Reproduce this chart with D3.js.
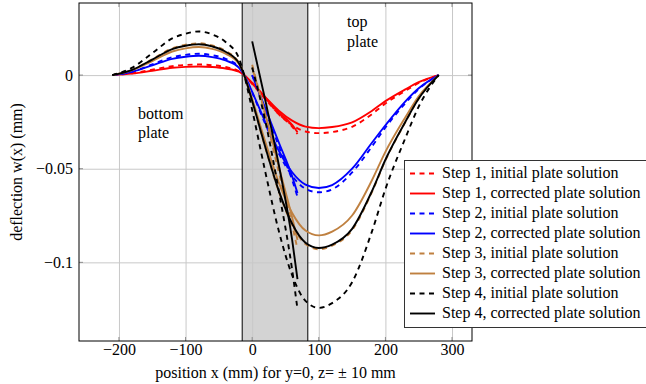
<!DOCTYPE html>
<html>
<head>
<meta charset="utf-8">
<script src="https://cdn.jsdelivr.net/npm/d3@7"></script>
<style>
    body { margin: 0; background: #fff; }
</style>
</head>
<body>
<div id="chart"></div>
<script>
// positions along the plate (mm), main curve
const xPos = [-210, -180, -150, -120, -100, -80, -60, -40, -20, -12, 0, 20, 40, 60, 80, 100, 120, 150, 180, 200, 230, 250, 280];
// positions inside the overlap (grey) region
const xOverlap = [0, 20, 40, 60, 68];

// deflection w(x) in mm
const step1Initial   = [0, 0.0010, 0.0029, 0.0048, 0.0054, 0.0057, 0.0053, 0.0043, 0.0022, 0, -0.0047, -0.0130, -0.0208, -0.0267, -0.0301, -0.0310, -0.0304, -0.0276, -0.0208, -0.0152, -0.0084, -0.0042, 0];
const step1Corrected = [0, 0.0008, 0.0023, 0.0039, 0.0044, 0.0046, 0.0043, 0.0035, 0.0018, 0, -0.0042, -0.0119, -0.0190, -0.0243, -0.0275, -0.0283, -0.0277, -0.0252, -0.0190, -0.0139, -0.0076, -0.0038, 0];
const step2Initial   = [0, 0.0019, 0.0057, 0.0096, 0.0108, 0.0114, 0.0106, 0.0087, 0.0044, 0, -0.0094, -0.0263, -0.0419, -0.0538, -0.0607, -0.0626, -0.0610, -0.0520, -0.0380, -0.0280, -0.0150, -0.0075, 0];
const step2Corrected = [0, 0.0018, 0.0052, 0.0087, 0.0098, 0.0103, 0.0096, 0.0078, 0.0040, 0, -0.0090, -0.0253, -0.0404, -0.0519, -0.0585, -0.0603, -0.0587, -0.0500, -0.0360, -0.0268, -0.0140, -0.0070, 0];
const step3Initial   = [0, 0.0029, 0.0085, 0.0143, 0.0162, 0.0170, 0.0158, 0.0129, 0.0066, 0, -0.0140, -0.0391, -0.0623, -0.0800, -0.0902, -0.0930, -0.0911, -0.0828, -0.0623, -0.0456, -0.0251, -0.0126, 0];
const step3Corrected = [0, 0.0026, 0.0075, 0.0126, 0.0143, 0.0150, 0.0140, 0.0114, 0.0059, 0, -0.0128, -0.0360, -0.0574, -0.0736, -0.0830, -0.0856, -0.0836, -0.0750, -0.0560, -0.0410, -0.0225, -0.0113, 0];
const step4Initial   = [0, 0.0040, 0.0117, 0.0196, 0.0221, 0.0233, 0.0217, 0.0177, 0.0091, 0, -0.0186, -0.0522, -0.0833, -0.1069, -0.1206, -0.1243, -0.1218, -0.1106, -0.0833, -0.0609, -0.0336, -0.0168, 0];
const step4Corrected = [0, 0.0028, 0.0083, 0.0139, 0.0157, 0.0165, 0.0153, 0.0125, 0.0064, 0, -0.0138, -0.0388, -0.0618, -0.0794, -0.0895, -0.0923, -0.0905, -0.0821, -0.0618, -0.0452, -0.0249, -0.0125, 0];

// second branch of each solution inside the overlap
const step1InitialOverlap   = [-0.0045, -0.0125, -0.0210, -0.0275, -0.0315];
const step1CorrectedOverlap = [-0.0040, -0.0120, -0.0200, -0.0265, -0.0305];
const step2InitialOverlap   = [0.0000, -0.0190, -0.0380, -0.0560, -0.0650];
const step2CorrectedOverlap = [0.0000, -0.0180, -0.0360, -0.0540, -0.0630];
const step3InitialOverlap   = [0.0055, -0.0220, -0.0520, -0.0800, -0.0930];
const step3CorrectedOverlap = [0.0040, -0.0210, -0.0490, -0.0760, -0.0880];
const step4InitialOverlap   = [0.0040, -0.0250, -0.0620, -0.1040, -0.1250];
const step4CorrectedOverlap = [0.0180, -0.0140, -0.0480, -0.0880, -0.1090];

const seriesLabels = [
    "Step 1, initial plate solution", "Step 1, corrected plate solution",
    "Step 2, initial plate solution", "Step 2, corrected plate solution",
    "Step 3, initial plate solution", "Step 3, corrected plate solution",
    "Step 4, initial plate solution", "Step 4, corrected plate solution"
];
const seriesMain = [step1Initial, step1Corrected, step2Initial, step2Corrected, step3Initial, step3Corrected, step4Initial, step4Corrected];
const seriesOverlap = [step1InitialOverlap, step1CorrectedOverlap, step2InitialOverlap, step2CorrectedOverlap,
    step3InitialOverlap, step3CorrectedOverlap, step4InitialOverlap, step4CorrectedOverlap];

const xTicks = [-200, -100, 0, 100, 200, 300];
const yTicks = [-0.1, -0.05, 0];
const overlapRegion = [-15, 83.5];

const serifFont = "'Liberation Serif', 'Times New Roman', Times, 'DejaVu Serif', serif";

class DeflectionChart {

    constructor() {
        this.width = 646;
        this.height = 384;
        this.plot = {left: 79, top: 3, right: 472, bottom: 341};

        this.svg = d3.select("#chart").append("svg")
            .attr("width", this.width)
            .attr("height", this.height)
            .style("font-family", serifFont)
            .style("font-size", "16px");

        this.xScale = d3.scaleLinear().domain([-260, 330]).range([this.plot.left, this.plot.right]);
        this.yScale = d3.scaleLinear().domain([-0.142, 0.0385]).range([this.plot.bottom, this.plot.top]);

        this.colors = ["#ff0000", "#ff0000", "#0000ff", "#0000ff", "#bf8040", "#bf8040", "#000000", "#000000"];
        this.dashed = [true, false, true, false, true, false, true, false];
        this.lineWidth = 1.9;
    }

    // every text gets the serif font explicitly, axes set their own otherwise
    addText(parent, str, xv, yv) {
        return parent.append("text")
            .attr("x", xv).attr("y", yv)
            .style("font-family", serifFont)
            .style("font-size", "16px")
            .attr("fill", "#000")
            .text(str);
    }

    update() {
        let x = this.xScale, y = this.yScale, p = this.plot;
        let h = p.bottom - p.top, w = p.right - p.left;

        // grey overlap region of the two plates
        this.svg.append("rect")
            .attr("x", x(overlapRegion[0]))
            .attr("y", p.top)
            .attr("width", x(overlapRegion[1]) - x(overlapRegion[0]))
            .attr("height", h)
            .attr("fill", "#d3d3d3");

        // grid
        this.svg.append("g")
            .attr("transform", `translate(0,${p.bottom})`)
            .call(d3.axisBottom(x).tickValues(xTicks).tickSize(-h).tickFormat(""))
            .call(g => g.select(".domain").remove())
            .selectAll("line").attr("stroke", "#c8c8c8");
        this.svg.append("g")
            .attr("transform", `translate(${p.left},0)`)
            .call(d3.axisLeft(y).tickValues(yTicks).tickSize(-w).tickFormat(""))
            .call(g => g.select(".domain").remove())
            .selectAll("line").attr("stroke", "#c8c8c8");

        // edges of the overlap region
        overlapRegion.forEach(v => {
            this.svg.append("line")
                .attr("x1", x(v)).attr("x2", x(v))
                .attr("y1", p.top).attr("y2", p.bottom)
                .attr("stroke", "#000").attr("stroke-width", 1);
        });

        // small inner ticks on all sides
        let tickLen = 4;
        let ticks = this.svg.append("g").attr("stroke", "#8c8c8c");
        xTicks.forEach(v => {
            ticks.append("line").attr("x1", x(v)).attr("x2", x(v)).attr("y1", p.bottom).attr("y2", p.bottom - tickLen);
            ticks.append("line").attr("x1", x(v)).attr("x2", x(v)).attr("y1", p.top).attr("y2", p.top + tickLen);
        });
        yTicks.forEach(v => {
            ticks.append("line").attr("y1", y(v)).attr("y2", y(v)).attr("x1", p.left).attr("x2", p.left + tickLen);
            ticks.append("line").attr("y1", y(v)).attr("y2", y(v)).attr("x1", p.right).attr("x2", p.right - tickLen);
        });

        // curves
        let line = d3.line()
            .x(d => x(d[0]))
            .y(d => y(d[1]))
            .curve(d3.curveMonotoneX);

        let curves = this.svg.append("g").attr("fill", "none");
        seriesMain.forEach((vals, i) => {
            let main = xPos.map((xv, j) => [xv, vals[j]]);
            let over = xOverlap.map((xv, j) => [xv, seriesOverlap[i][j]]);
            [over, main].forEach(pts => {
                curves.append("path")
                    .attr("d", line(pts))
                    .attr("stroke", this.colors[i])
                    .attr("stroke-width", this.lineWidth)
                    .attr("stroke-dasharray", this.dashed[i] ? "5,4.5" : null);
            });
        });

        // frame
        this.svg.append("rect")
            .attr("x", p.left).attr("y", p.top)
            .attr("width", w).attr("height", h)
            .attr("fill", "none").attr("stroke", "#000").attr("stroke-width", 1);

        // tick labels
        this.svg.append("g")
            .attr("transform", `translate(0,${p.bottom})`)
            .call(d3.axisBottom(x).tickValues(xTicks).tickSize(0).tickPadding(3).tickFormat(d3.format("d")))
            .call(g => g.select(".domain").remove())
            .attr("font-family", null).attr("font-size", null)
            .selectAll("text").style("font-family", serifFont).style("font-size", "16px");
        this.svg.append("g")
            .attr("transform", `translate(${p.left},0)`)
            .call(d3.axisLeft(y).tickValues(yTicks).tickSize(0).tickPadding(6).tickFormat(d3.format("~g")))
            .call(g => g.select(".domain").remove())
            .attr("font-family", null).attr("font-size", null)
            .selectAll("text").style("font-family", serifFont).style("font-size", "16px");

        // axis titles
        this.addText(this.svg, "position x (mm) for y=0, z= \u00b1 10 mm", (p.left + p.right) / 2, 378)
            .attr("text-anchor", "middle");
        this.addText(this.svg, "deflection w(x) (mm)", 0, 0)
            .attr("transform", `translate(22,${(p.top + p.bottom) / 2}) rotate(-90)`)
            .attr("text-anchor", "middle");

        // plate annotations
        [["top", 347, 27], ["plate", 347, 47], ["bottom", 138, 119], ["plate", 138, 138]].forEach(a => {
            this.addText(this.svg, a[0], a[1], a[2]);
        });

        // legend
        let legend = this.svg.append("g");
        legend.append("rect")
            .attr("x", 404.5).attr("y", 160.5)
            .attr("width", 250).attr("height", 167)
            .attr("fill", "#fff").attr("stroke", "#333").attr("stroke-width", 1);
        seriesLabels.forEach((label, i) => {
            let cy = 173.5 + 20 * i;
            legend.append("line")
                .attr("x1", 410).attr("x2", 435)
                .attr("y1", cy).attr("y2", cy)
                .attr("stroke", this.colors[i])
                .attr("stroke-width", this.lineWidth)
                .attr("stroke-dasharray", this.dashed[i] ? "5,4.5" : null);
            this.addText(legend, label, 442, cy).attr("dy", "0.3em");
        });
    }
}

let chart = new DeflectionChart();
chart.update();
</script>
</body>
</html>
